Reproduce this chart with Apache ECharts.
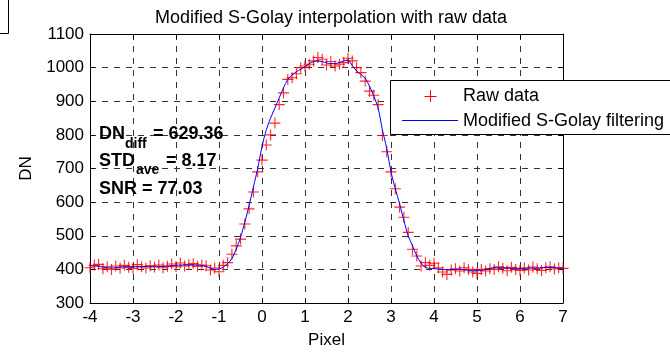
<!DOCTYPE html>
<html><head><meta charset="utf-8">
<script src="https://cdn.jsdelivr.net/npm/echarts@6/dist/echarts.min.js"></script>
<style>html,body{margin:0;padding:0;background:#fff}#c{width:670px;height:354px}</style>
</head><body><div id="c"></div>
<script>
// Pixel positions (x) shared by raw data and filtered curve
const pixels = [-4.0,-3.9,-3.8,-3.7,-3.6,-3.5,-3.4,-3.3,-3.2,-3.1,-3.0,-2.9,-2.8,-2.7,-2.6,-2.5,-2.4,-2.3,-2.2,-2.1,-2.0,-1.9,-1.8,-1.7,-1.6,-1.5,-1.4,-1.3,-1.2,-1.1,-1.0,-0.9,-0.8,-0.7,-0.6,-0.5,-0.4,-0.3,-0.2,-0.1,0.0,0.1,0.2,0.3,0.4,0.5,0.6,0.7,0.8,0.9,1.0,1.1,1.2,1.3,1.4,1.5,1.6,1.7,1.8,1.9,2.0,2.1,2.2,2.3,2.4,2.5,2.6,2.7,2.8,2.9,3.0,3.1,3.2,3.3,3.4,3.5,3.6,3.7,3.8,3.9,4.0,4.1,4.2,4.3,4.4,4.5,4.6,4.7,4.8,4.9,5.0,5.1,5.2,5.3,5.4,5.5,5.6,5.7,5.8,5.9,6.0,6.1,6.2,6.3,6.4,6.5,6.6,6.7,6.8,6.9,7.0];
const rawData = [405,412,415,402,408,400,410,404,412,406,403,414,408,404,411,407,413,405,409,416,408,419,410,414,417,409,413,411,398,404,393,412,420,445,470,490,535,580,630,690,725,770,800,835,890,925,965,970,982,1000,1005,1010,1020,1030,1025,1008,1018,1005,1010,1015,1028,1020,1000,985,960,930,918,890,798,750,690,640,585,555,510,460,440,410,420,412,418,405,392,385,398,402,395,405,400,392,388,400,395,402,400,408,403,396,406,400,397,404,398,407,402,397,405,408,401,405,403];
const filtered = [410,410,409,407,405,404,405,407,408,408,408,408,408,409,409,409,409,409,410,411,412,413,413,413,413,413,412,408,404,400,401,407,417,432,460,495,540,590,645,700,765,815,850,880,910,940,965,978,988,995,1003,1012,1018,1020,1018,1014,1012,1012,1015,1020,1022,1006,990,980,968,945,915,880,815,760,690,640,595,545,500,470,440,418,406,403,402,401,400,399,399,400,400,399,397,396,396,397,400,403,405,405,405,404,403,403,403,403,404,404,404,405,406,406,405,404,404];
const xTicks = [-4,-3,-2,-1,0,1,2,3,4,5,6,7];
const yTicks = [300,400,500,600,700,800,900,1000,1100];
const titleText = 'Modified S-Golay interpolation with raw data';
const seriesNames = ['Raw data','Modified S-Golay filtering'];

const FONT = '"Liberation Sans", Arial, Helvetica, sans-serif';
const plus = 'path://M4.5,0h1v10h-1zM0,4.5h10v1h-10z';
const chart = echarts.init(document.getElementById('c'), null, {renderer:'canvas'});
const gridLine = {show:true, lineStyle:{color:'#333', type:[6,6], width:1}};
const baseX = {type:'value', min:xTicks[0], max:xTicks[xTicks.length-1], interval:1,
  axisLine:{show:true, onZero:false, lineStyle:{color:'#000', width:1}},
  axisTick:{show:true, inside:true, length:5, lineStyle:{color:'#000'}}};
const baseY = {type:'value', min:yTicks[0], max:yTicks[yTicks.length-1], interval:100,
  axisLine:{show:true, onZero:false, lineStyle:{color:'#000', width:1}},
  axisTick:{show:true, inside:true, length:5, lineStyle:{color:'#000'}}};
function txt(x, y, s, font){
  return {type:'text', x:x, y:y, z:11, style:{text:s, font:font, fill:'#000', verticalAlign:'bottom', align:'left'}};
}
chart.setOption({
  animation:false,
  backgroundColor:'#fff',
  title:{text:titleText, left:326, textAlign:'center', top:4,
    textStyle:{fontFamily:FONT, fontSize:18, fontWeight:'normal', color:'#000'}},
  grid:{left:90, right:107, top:34, bottom:49},
  xAxis:[
    Object.assign({}, baseX, {position:'bottom', name:'Pixel', nameLocation:'middle', nameGap:29,
      nameTextStyle:{fontFamily:FONT, fontSize:17, color:'#000'},
      axisLabel:{fontFamily:FONT, fontSize:17, color:'#000', margin:6, formatter:v=>String(v)},
      splitLine:gridLine}),
    Object.assign({}, baseX, {position:'top', axisLabel:{show:false}, splitLine:{show:false}})
  ],
  yAxis:[
    Object.assign({}, baseY, {position:'left', name:'DN', nameLocation:'middle', nameGap:51,
      nameTextStyle:{fontFamily:FONT, fontSize:17, color:'#000'},
      axisLabel:{fontFamily:FONT, fontSize:17, color:'#000', margin:6, formatter:v=>String(v)},
      splitLine:gridLine}),
    Object.assign({}, baseY, {position:'right', axisLabel:{show:false}, splitLine:{show:false}})
  ],
  series:[
    {name:seriesNames[0], type:'scatter', symbol:plus, symbolSize:11,
     itemStyle:{color:'#ff0000', opacity:0.85}, z:2,
     data:pixels.map((p,i)=>[p, rawData[i]])},
    {name:seriesNames[1], type:'line', showSymbol:false, symbol:'none', smooth:0.3,
     lineStyle:{color:'#0000ff', width:1}, z:3,
     data:pixels.map((p,i)=>[p, filtered[i]])}
  ],
  graphic:[
    {type:'polyline', z:10, shape:{points:[[8.5,0],[8.5,33.5],[0,33.5]]}, style:{stroke:'#000', lineWidth:1, fill:null}},
    {type:'rect', z:10, shape:{x:390.5, y:80.5, width:300, height:54}, style:{fill:'#fff', stroke:'#000', lineWidth:1}},
    {type:'line', z:11, shape:{x1:430.5, y1:90, x2:430.5, y2:102}, style:{stroke:'#ff0000', lineWidth:1}},
    {type:'line', z:11, shape:{x1:424.5, y1:96.5, x2:436.5, y2:96.5}, style:{stroke:'#ff0000', lineWidth:1}},
    {type:'text', z:11, x:463, y:96, style:{text:seriesNames[0], font:'18px '+FONT, fill:'#000', verticalAlign:'middle'}},
    {type:'line', z:11, shape:{x1:402, y1:120.5, x2:458, y2:120.5}, style:{stroke:'#0000ff', lineWidth:1}},
    {type:'text', z:11, x:463, y:121, style:{text:seriesNames[1], font:'18px '+FONT, fill:'#000', verticalAlign:'middle'}},
    txt(99, 143, 'DN', 'bold 18px '+FONT),
    txt(125, 151, 'diff', 'bold 14px '+FONT),
    txt(153, 143, '= 629.36', 'bold 18px '+FONT),
    txt(99, 170, 'STD', 'bold 18px '+FONT),
    txt(136, 177, 'ave', 'bold 14px '+FONT),
    txt(166, 170, '= 8.17', 'bold 18px '+FONT),
    txt(99, 198, 'SNR = 77.03', 'bold 18px '+FONT)
  ]
});
</script></body></html>
